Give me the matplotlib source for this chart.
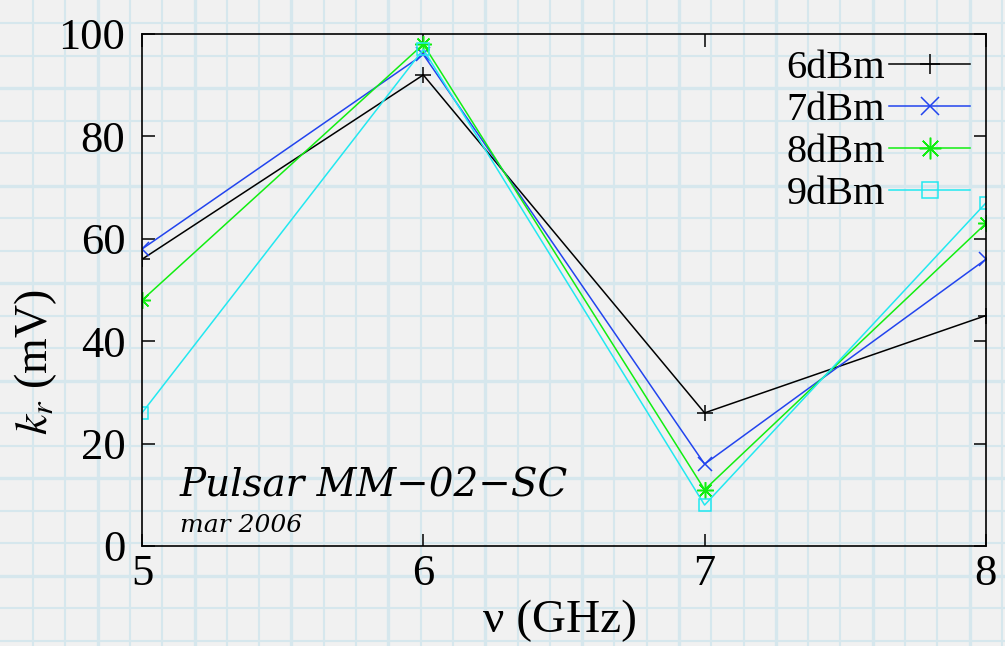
import matplotlib
matplotlib.use('Agg')
import matplotlib.pyplot as plt
import numpy as np

# Данные
freq = [5, 6, 7, 8]
k_6dbm = [56, 92, 26, 45]
k_7dbm = [58, 96, 16, 56]
k_8dbm = [48, 98, 11, 63]
k_9dbm = [26, 97, 8, 67]
labels = ['6dBm', '7dBm', '8dBm', '9dBm']
yticks = [0, 20, 40, 60, 80, 100]

plt.rcParams['font.family'] = ['Liberation Serif', 'DejaVu Serif']
plt.rcParams['mathtext.fontset'] = 'stix'

fig = plt.figure(figsize=(10.05, 6.46), dpi=100, facecolor='#f1f1f1')

# фон "миллиметровка"
bg = fig.add_axes([0, 0, 1, 1], zorder=-10)
bg.set_xlim(0, 1005)
bg.set_ylim(646, 0)
bg.axis('off')
for i, x in enumerate(np.arange(33, 1005, 32.3)):
    bg.axvline(x, color='#d6e7ed', lw=2.4 if i % 3 == 2 else 1.5)
for i, y in enumerate(np.arange(23, 646, 32.5)):
    bg.axhline(y, color='#d6e7ed', lw=2.4 if i % 3 == 2 else 1.5)

ax = fig.add_axes([0.1413, 0.1548, 0.8397, 0.7926])
ax.set_facecolor('none')

ax.plot(freq, k_6dbm, color='black', lw=1.1, marker='+', ms=11, mew=1.1, label=labels[0])
ax.plot(freq, k_7dbm, color='#2244ee', lw=1.1, marker='x', ms=10, mew=1.1, label=labels[1])
ax.plot(freq, k_8dbm, color='#11ee11', lw=1.1, marker=(8, 2, 0), ms=12, mew=1.1, label=labels[2])
ax.plot(freq, k_9dbm, color='#22e8f0', lw=1.1, marker='s', ms=9, mew=1.1,
        mfc='none', label=labels[3])

ax.set_xlim(5, 8)
ax.set_ylim(0, 100)
ax.set_xticks(freq)
ax.set_yticks(yticks)
ax.tick_params(direction='in', length=9, width=1.1, labelsize=32,
               top=True, right=True)
ax.tick_params(axis='y', pad=12)
ax.tick_params(axis='x', pad=6)
for s in ax.spines.values():
    s.set_linewidth(1.2)

ax.set_xlabel('ν (GHz)', fontsize=34)
ax.set_ylabel('$k_r$ (mV)', fontsize=33)
ax.xaxis.set_label_coords(0.495, -0.105)
ax.yaxis.set_label_coords(-0.098, 0.36)

ax.text(0.045, 0.096, 'Pulsar MM−02−SC', transform=ax.transAxes,
        fontsize=28, style='italic', family=['DejaVu Serif'])
ax.text(0.045, 0.027, 'mar 2006', transform=ax.transAxes,
        fontsize=18, style='italic', family=['DejaVu Serif'])

ax.legend(loc='upper right', frameon=False, markerfirst=False, fontsize=29,
          handlelength=2.0, labelspacing=0.12, handletextpad=0.1,
          borderaxespad=0.0, markerscale=1.3)

plt.savefig('out.png', dpi=100, facecolor=fig.get_facecolor())
